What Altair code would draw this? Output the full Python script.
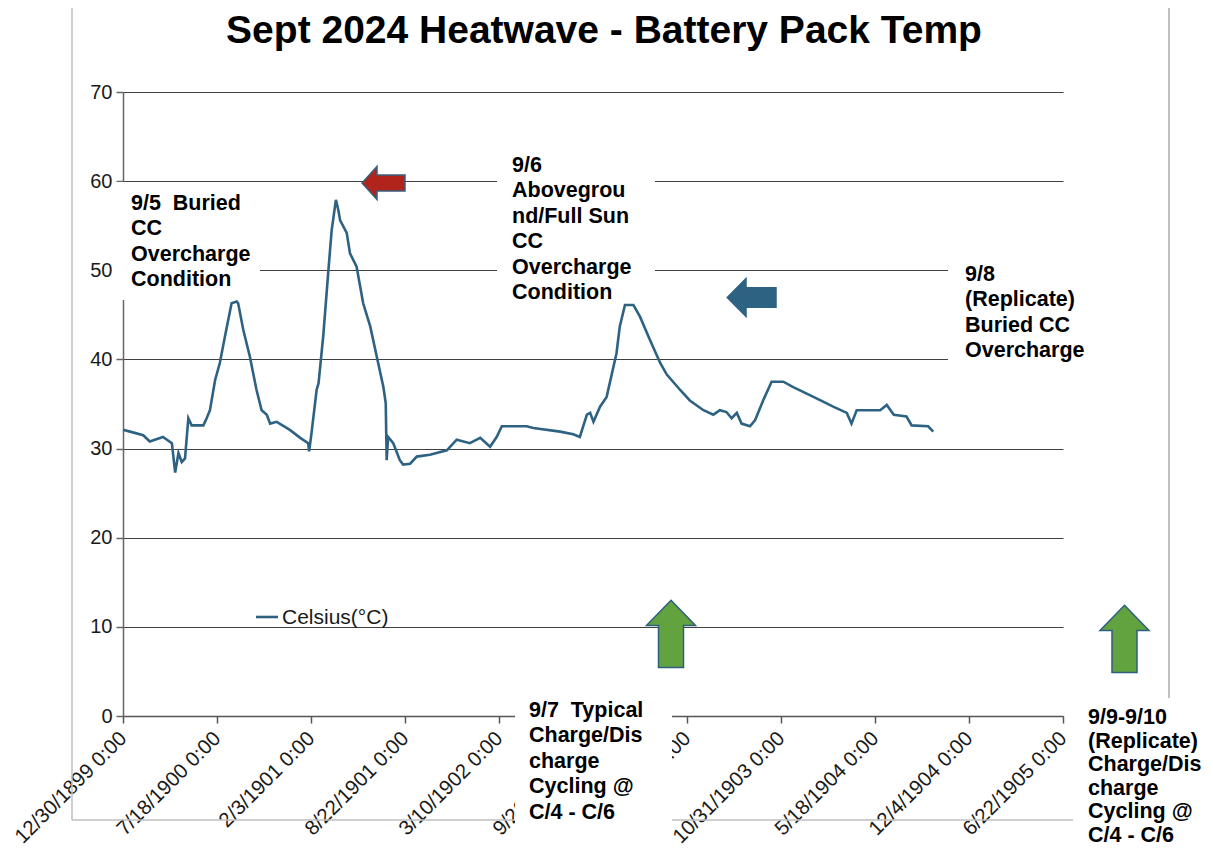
import altair as alt
import pandas as pd

# ---------------- data ----------------
serial = [0, 15, 43, 57, 85, 104, 111, 118, 125, 132, 139, 146, 171, 178, 185, 196, 206, 217, 231, 242,
          245, 256, 270, 284, 295, 306, 313, 327, 355, 377, 394, 396, 401, 412, 416, 426, 437, 444, 453, 458,
          462, 476, 483, 497, 511, 526, 540, 554, 559, 561, 564, 575, 589, 596, 611, 625, 653, 689, 710, 738,
          760, 781, 795, 806, 859, 873, 930, 958, 972, 987, 994, 1001, 1015, 1029, 1050, 1057, 1068, 1086,
          1100, 1121, 1143, 1157, 1185, 1206, 1235, 1256, 1270, 1284, 1295, 1306, 1316, 1334, 1345, 1362,
          1380, 1405, 1426, 1469, 1511, 1540, 1550, 1561, 1611, 1625, 1640, 1667, 1678, 1713, 1724]
celsius = [32.1, 31.9, 31.5, 30.8, 31.3, 30.6, 27.3, 29.5, 28.5, 28.9, 33.4, 32.6, 32.6, 33.4, 34.3, 37.7,
           39.6, 42.6, 46.3, 46.5, 46.3, 43.3, 40.3, 36.6, 34.3, 33.8, 32.8, 33.0, 32.1, 31.2, 30.6, 29.7,
           31.7, 36.6, 37.3, 42.6, 50.0, 54.5, 57.9, 56.8, 55.6, 54.2, 51.9, 50.4, 46.3, 43.7, 40.3, 36.9,
           35.1, 28.7, 31.3, 30.6, 28.7, 28.2, 28.3, 29.1, 29.3, 29.8, 31.0, 30.6, 31.2, 30.2, 31.3, 32.5,
           32.5, 32.3, 31.9, 31.6, 31.3, 33.8, 34.0, 33.0, 34.7, 35.8, 40.7, 43.7, 46.1, 46.1, 44.8, 42.2,
           39.6, 38.3, 36.6, 35.4, 34.3, 33.8, 34.3, 34.1, 33.4, 34.0, 32.8, 32.5, 33.2, 35.4, 37.5, 37.5,
           36.9, 35.8, 34.7, 34.0, 32.8, 34.3, 34.3, 34.9, 33.8, 33.6, 32.6, 32.5, 31.9]

x_ticks = [0, 200, 400, 600, 800, 1000, 1200, 1400, 1600, 1800, 2000]
x_tick_labels = ["12/30/1899 0:00", "7/18/1900 0:00", "2/3/1901 0:00", "8/22/1901 0:00",
                 "3/10/1902 0:00", "9/26/1902 0:00", "4/14/1903 0:00", "10/31/1903 0:00",
                 "5/18/1904 0:00", "12/4/1904 0:00", "6/22/1905 0:00"]
y_ticks = [0, 10, 20, 30, 40, 50, 60, 70]

title_text = "Sept 2024 Heatwave - Battery Pack Temp"
series_name = "Celsius(°C)"
note_1 = ["9/5\u00a0 Buried", "CC", "Overcharge", "Condition"]
note_2 = ["9/6", "Abovegrou", "nd/Full Sun", "CC", "Overcharge", "Condition"]
note_3 = ["9/8", "(Replicate)", "Buried CC", "Overcharge"]
note_4 = ["9/7\u00a0 Typical", "Charge/Dis", "charge", "Cycling @", "C/4 - C/6"]
note_5 = ["9/9-9/10", "(Replicate)", "Charge/Dis", "charge", "Cycling @", "C/4 - C/6"]

df = pd.DataFrame({"serial": serial, "celsius": celsius})
one = pd.DataFrame({"k": [0]})

# ---------------- styling / layout ----------------
FONT = "Liberation Sans"
LINE = "#2E6283"
W, H = 940, 624
OX, OY = 123, 92  # page position of plot origin


def px(x):
    return x - OX


def py(y):
    return y - OY


label_expr = "[" + ",".join("'" + s + "'" for s in x_tick_labels) + "][round(datum.value / 200)]"

x_scale = alt.Scale(domain=[0, 2000], nice=False, zero=False)
y_scale = alt.Scale(domain=[0, 70], nice=False, zero=True)

line = alt.Chart(df).mark_line(color=LINE, strokeWidth=2.6).encode(
    x=alt.X("serial:Q", scale=x_scale,
            axis=alt.Axis(values=x_ticks, labelExpr=label_expr, title=None, grid=False,
                          labelAngle=315, labelAlign="right", labelBaseline="middle",
                          labelFontSize=20.5, labelFont=FONT, labelColor="#1a1a1a",
                          labelPadding=12, labelOverlap=False, labelFlush=False,
                          domainColor="#555555", domainWidth=1.5, tickColor="#555555",
                          tickWidth=1.5, tickSize=7)),
    y=alt.Y("celsius:Q", scale=y_scale,
            axis=alt.Axis(values=y_ticks, title=None, grid=True, gridColor="#404040",
                          gridWidth=1.2, labelFontSize=20, labelFont=FONT,
                          labelColor="#1a1a1a", labelPadding=4, domainColor="#666666",
                          domainWidth=1.5, tickColor="#666666", tickWidth=1.5, tickSize=7)),
)


def rule(x1, y1, x2, y2, color, width):
    return alt.Chart(one).mark_rule(color=color, strokeWidth=width).encode(
        x=alt.value(px(x1)), x2=alt.value(px(x2)), y=alt.value(py(y1)), y2=alt.value(py(y2)))


def box(x1, y1, x2, y2):
    return alt.Chart(one).mark_rect(color="white", opacity=1).encode(
        x=alt.value(px(x1)), x2=alt.value(px(x2)), y=alt.value(py(y1)), y2=alt.value(py(y2)))


def note(lines, x, y, lh=25.4):
    return alt.Chart(one).mark_text(align="left", baseline="alphabetic", font=FONT, fontSize=21.5,
                                    fontWeight="bold", lineHeight=lh, color="#000000").encode(
        x=alt.value(px(x)), y=alt.value(py(y)), text=alt.value(lines))


LEFT_ARROW = "M -0.86 0 L -0.26 -0.66 L -0.26 -0.32 L 0.86 -0.32 L 0.86 0.32 L -0.26 0.32 L -0.26 0.66 Z"
BLUE_ARROW = "M -0.97 0 L -0.22 -0.76 L -0.22 -0.39 L 0.98 -0.39 L 0.98 0.39 L -0.22 0.39 L -0.22 0.76 Z"
UP_ARROW = "M 0 -1.35 L 0.98 -0.34 L 0.5 -0.34 L 0.5 1.34 L -0.5 1.34 L -0.5 -0.34 L -0.98 -0.34 Z"


def arrow(path, x, y, fill, stroke):
    return alt.Chart(one).mark_point(shape=path, size=2500, filled=True, fill=fill, stroke=stroke,
                                     strokeWidth=1.5, opacity=1).encode(
        x=alt.value(px(x)), y=alt.value(py(y)))


frame = [
    rule(72, 4, 1169, 4, "#EEEEEE", 1.5),
    rule(72, 4, 72, 820, "#BFBFBF", 1.5),
    rule(72, 820, 1073, 820, "#BFBFBF", 1.5),
    rule(1169, 4, 1169, 698, "#BFBFBF", 2),
]

boxes = [
    box(116, 182, 260, 300),
    box(497, 148, 655, 306),
    box(948, 258, 1105, 362),
    box(515, 696, 672, 835),
    box(1080, 700, 1213, 857),
]

title = alt.Chart(one).mark_text(align="center", baseline="alphabetic", font=FONT, fontSize=39,
                                 fontWeight="bold", color="#000000").encode(
    x=alt.value(px(604)), y=alt.value(py(43)), text=alt.value(title_text))

legend_line = rule(256, 617, 278, 617, LINE, 2.6)
legend_text = alt.Chart(one).mark_text(align="left", baseline="middle", font=FONT, fontSize=21,
                                       color="#1a1a1a").encode(
    x=alt.value(px(282)), y=alt.value(py(618)), text=alt.value(series_name))

notes = [
    note(note_1, 131, 210),
    note(note_2, 512, 172),
    note(note_3, 965, 281),
    note(note_4, 529, 717),
    note(note_5, 1088, 724, 23.6),
]

arrows = [
    arrow(LEFT_ARROW, 383.5, 183, "#B0241B", "#3A5F7D"),
    arrow(BLUE_ARROW, 751.5, 297.5, "#2E6283", "#2E6283"),
    arrow(UP_ARROW, 671, 634, "#62A33F", "#2F5F7F"),
    arrow(UP_ARROW, 1124.5, 639, "#62A33F", "#2F5F7F"),
]

chart = alt.layer(*frame, *boxes, line, legend_line, legend_text, title, *notes, *arrows).properties(
    width=W, height=H,
    autosize=alt.AutoSizeParams(type="none"),
    padding={"left": 115, "top": 84, "right": 142, "bottom": 133},
).configure_view(stroke=None)

chart.save("out.html", embed_options={"renderer": "svg", "actions": False})
